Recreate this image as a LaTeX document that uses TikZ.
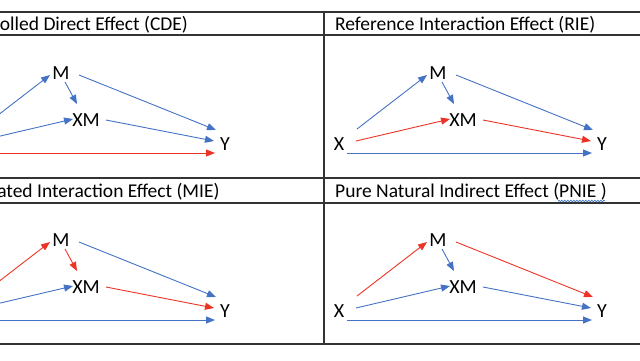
\documentclass[tikz,border=0pt]{standalone}
\usepackage{fontspec}
\setmainfont{Carlito}
\usetikzlibrary{arrows.meta, positioning, decorations.pathmorphing}

\definecolor{effblue}{RGB}{68,114,196}
\definecolor{effred}{RGB}{236,52,38}

\begin{document}
\begin{tikzpicture}[
    x=1pt, y=-1pt,
    >={Triangle[length=9pt, width=7pt]},
    % Titulos de las celdas
    celltitle/.style = {
        anchor=base west,
        inner sep=0pt,
        font=\fontsize{19.5}{22}\selectfont
    },
    % Variables del modelo
    var/.style = {
        inner sep=0pt,
        font=\fontsize{20}{22}\selectfont
    },
    % Lineas de la tabla
    rule/.style = {line width=1.4pt, black!80},
    % Caminos (azul / rojo)
    bluepath/.style = {draw=effblue, ->, line width=0.9pt},
    redpath/.style = {draw=effred, ->, line width=0.9pt}
]

    \path [use as bounding box, clip] (0,0) rectangle (640,360);

    % --- TABLA ---
    \draw [rule] (-60,12) -- (700,12);
    \draw [rule] (-60,35) -- (700,35);
    \draw [rule] (-60,178) -- (700,178);
    \draw [rule] (-60,203) -- (700,203);
    \draw [rule] (-60,344) -- (700,344);
    \draw [rule] (324,12) -- (324,344);

    % --- TITULOS ---
    \node [celltitle] (cde) at (-44,30) {Controlled Direct Effect (CDE)};
    \node [celltitle] (rie) at (335,30) {Reference Interaction Effect (RIE)};
    \node [celltitle] (mie) at (-44,197) {Mediated Interaction Effect (MIE)};
    \node [celltitle] (pnie) at (335,197) {Pure Natural Indirect Effect (PNIE )};

    % subrayado ondulado bajo "PNIE "
    \draw [effblue, line width=0.7pt, decorate,
        decoration={snake, amplitude=0.8pt, segment length=3pt}] (558,201) -- (605,201);

    % --- CDE (arriba izquierda) ---
    \node [var] (m1) at (61,73) {M};
    \node [var] (xm1) at (86,120) {XM};
    \node [var] (x1) at (-38,144) {X};
    \node [var] (y1) at (225,144) {Y};

    \draw [bluepath] ([shift={(18,-15)}]x1.center) -- ([shift={(-11,2)}]m1.center);
    \draw [bluepath] ([shift={(4,9)}]m1.center) -- ([shift={(-9,-16)}]xm1.center);
    \draw [bluepath] ([shift={(18,2)}]m1.center) -- ([shift={(-9,-14)}]y1.center);
    \draw [bluepath] ([shift={(17,-3)}]x1.center) -- ([shift={(-13,-1)}]xm1.center);
    \draw [bluepath] ([shift={(20,0)}]xm1.center) -- ([shift={(-11,-3)}]y1.center);
    \draw [redpath] ([shift={(8,9)}]x1.center) -- ([shift={(-10,9)}]y1.center);

    % --- RIE (arriba derecha) ---
    \node [var] (m2) at (438,73) {M};
    \node [var] (xm2) at (463,120) {XM};
    \node [var] (x2) at (339,144) {X};
    \node [var] (y2) at (602,144) {Y};

    \draw [bluepath] ([shift={(18,-15)}]x2.center) -- ([shift={(-11,2)}]m2.center);
    \draw [bluepath] ([shift={(4,9)}]m2.center) -- ([shift={(-9,-16)}]xm2.center);
    \draw [bluepath] ([shift={(18,2)}]m2.center) -- ([shift={(-9,-14)}]y2.center);
    \draw [redpath] ([shift={(17,-3)}]x2.center) -- ([shift={(-13,-1)}]xm2.center);
    \draw [redpath] ([shift={(20,0)}]xm2.center) -- ([shift={(-11,-3)}]y2.center);
    \draw [bluepath] ([shift={(8,9)}]x2.center) -- ([shift={(-10,9)}]y2.center);

    % --- MIE (abajo izquierda) ---
    \node [var] (m3) at (61,240) {M};
    \node [var] (xm3) at (86,287) {XM};
    \node [var] (x3) at (-38,311) {X};
    \node [var] (y3) at (225,311) {Y};

    \draw [redpath] ([shift={(18,-15)}]x3.center) -- ([shift={(-11,2)}]m3.center);
    \draw [redpath] ([shift={(4,9)}]m3.center) -- ([shift={(-9,-16)}]xm3.center);
    \draw [bluepath] ([shift={(18,2)}]m3.center) -- ([shift={(-9,-14)}]y3.center);
    \draw [bluepath] ([shift={(17,-3)}]x3.center) -- ([shift={(-13,-1)}]xm3.center);
    \draw [redpath] ([shift={(20,0)}]xm3.center) -- ([shift={(-11,-3)}]y3.center);
    \draw [bluepath] ([shift={(8,9)}]x3.center) -- ([shift={(-10,9)}]y3.center);

    % --- PNIE (abajo derecha) ---
    \node [var] (m4) at (438,240) {M};
    \node [var] (xm4) at (463,287) {XM};
    \node [var] (x4) at (339,311) {X};
    \node [var] (y4) at (602,311) {Y};

    \draw [redpath] ([shift={(18,-15)}]x4.center) -- ([shift={(-11,2)}]m4.center);
    \draw [bluepath] ([shift={(4,9)}]m4.center) -- ([shift={(-9,-16)}]xm4.center);
    \draw [redpath] ([shift={(18,2)}]m4.center) -- ([shift={(-9,-14)}]y4.center);
    \draw [bluepath] ([shift={(17,-3)}]x4.center) -- ([shift={(-13,-1)}]xm4.center);
    \draw [bluepath] ([shift={(20,0)}]xm4.center) -- ([shift={(-11,-3)}]y4.center);
    \draw [bluepath] ([shift={(8,9)}]x4.center) -- ([shift={(-10,9)}]y4.center);

\end{tikzpicture}
\end{document}
